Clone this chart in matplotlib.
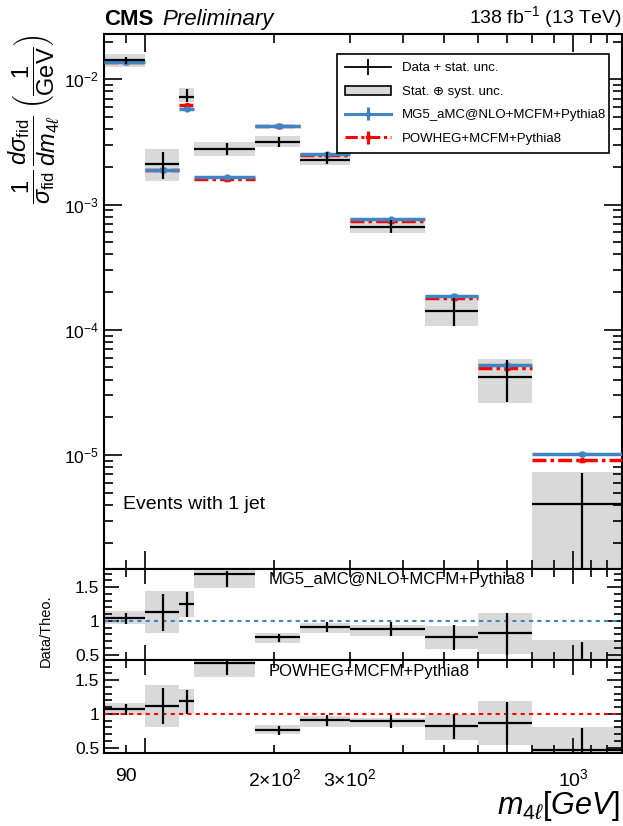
import numpy as np
import matplotlib
matplotlib.use("Agg")
import matplotlib.pyplot as plt
from matplotlib.patches import Patch
from matplotlib.lines import Line2D
from matplotlib.ticker import FixedLocator, FuncFormatter, MultipleLocator, LogLocator, NullFormatter

plt.rcParams['font.family'] = ['Liberation Sans', 'DejaVu Sans']
plt.rcParams['mathtext.fontset'] = 'custom'
plt.rcParams['mathtext.rm'] = 'Liberation Sans'
plt.rcParams['mathtext.it'] = 'Liberation Sans:italic'
plt.rcParams['mathtext.bf'] = 'Liberation Sans:bold'

# m4l binning (GeV)
bin_edges = [80, 100, 120, 130, 180, 230, 300, 450, 600, 800, 1300]
bin_centers = [90, 110, 125, 155, 205, 265, 375, 525, 700, 1050]

# normalised differential cross section (1/GeV)
data = [0.01425, 0.0021, 0.00726, 0.00279, 0.00318, 0.00227, 0.000665, 0.000141, 4.23e-5, 4.1e-6]
stat_lo = [0.0132, 0.00159, 0.0066, 0.00249, 0.00286, 0.0021, 0.000589, 0.000107, 2.67e-5, 1e-7]
stat_hi = [0.0152, 0.00264, 0.0083, 0.0031, 0.00344, 0.002615, 0.000752, 0.000178, 5.75e-5, 7.2e-6]
syst_lo = [0.0126, 0.00154, 0.00663, 0.00245, 0.00286, 0.00206, 0.000596, 0.000107, 2.6e-5, 1e-7]
syst_hi = [0.0158, 0.00277, 0.00847, 0.00314, 0.00353, 0.0026, 0.000762, 0.000178, 5.8e-5, 7.3e-6]

mg5 = [0.0137, 0.00189, 0.00583, 0.00165, 0.00424, 0.00252, 0.000762, 0.000187, 5.24e-5, 1.02e-5]
powheg = [0.0138, 0.0019, 0.0062, 0.0016, 0.00424, 0.0025, 0.00074, 0.000178, 4.93e-5, 9.1e-6]
theo_rel_unc = 0.03

# ratio panels
ratio_mg = [1.05, 1.13, 1.25, 1.70, 0.76, 0.905, 0.88, 0.766, 0.825, 0.40]
ratio_mg_stat_lo = [0.96, 0.855, 1.055, 1.51, 0.69, 0.83, 0.776, 0.567, 0.49, 0.0]
ratio_mg_stat_hi = [1.11, 1.40, 1.43, 1.74, 0.805, 0.98, 0.98, 0.94, 1.115, 0.69]
ratio_mg_syst_lo = [0.955, 0.825, 1.055, 1.49, 0.676, 0.825, 0.776, 0.58, 0.51, 0.0]
ratio_mg_syst_hi = [1.14, 1.45, 1.45, 1.90, 0.825, 0.965, 0.94, 0.93, 1.115, 0.716]

ratio_pw = [1.07, 1.12, 1.185, 1.76, 0.76, 0.91, 0.895, 0.82, 0.86, 0.47]
ratio_pw_stat_lo = [0.985, 0.845, 1.0, 1.58, 0.685, 0.825, 0.795, 0.635, 0.535, 0.0]
ratio_pw_stat_hi = [1.15, 1.385, 1.36, 1.95, 0.82, 0.985, 0.985, 1.0, 1.17, 0.795]
ratio_pw_syst_lo = [0.985, 0.81, 1.0, 1.55, 0.70, 0.81, 0.81, 0.62, 0.535, 0.0]
ratio_pw_syst_hi = [1.16, 1.435, 1.37, 1.95, 0.835, 0.97, 0.935, 1.0, 1.185, 0.81]

blue = '#3f84c4'
red = '#ff0000'
grey = '#d9d9d9'
dashdot = (0, (4, 1.2, 1, 1.2))

edges = np.array(bin_edges, dtype=float)
lo_e, hi_e = edges[:-1], edges[1:]
c = np.array(bin_centers, dtype=float)
xerr = [c - lo_e, hi_e - c]


def draw_boxes(ax, lo, hi):
    lo, hi = np.array(lo), np.array(hi)
    ax.bar(lo_e, hi - lo, bottom=lo, width=hi_e - lo_e, align='edge',
           color=grey, edgecolor='none', zorder=1)


def draw_data(ax, y, lo, hi):
    y, lo, hi = np.array(y), np.array(lo), np.array(hi)
    ax.errorbar(c, y, yerr=[y - lo, hi - y], xerr=xerr, fmt='none',
                ecolor='k', elinewidth=1.6, zorder=5)


def style_ticks(ax, major_len, minor_len):
    ax.tick_params(which='both', direction='in', top=True, right=True, width=1.2)
    ax.tick_params(which='major', length=major_len)
    ax.tick_params(which='minor', length=minor_len)
    for s in ax.spines.values():
        s.set_linewidth(1.5)


fig = plt.figure(figsize=(6.23, 8.26), dpi=100)
W, H = 623.0, 826.0
x0, x1 = 104 / W, 622 / W
ax = fig.add_axes([x0, 1 - 569 / H, x1 - x0, (569 - 34) / H])
rx1 = fig.add_axes([x0, 1 - 660 / H, x1 - x0, 91 / H], sharex=ax)
rx2 = fig.add_axes([x0, 1 - 753 / H, x1 - x0, 93 / H], sharex=ax)

# main panel
draw_boxes(ax, syst_lo, syst_hi)
mg = np.array(mg5)
pw = np.array(powheg)
ax.hlines(pw, lo_e, hi_e, color=red, lw=2.5, linestyles=[dashdot], zorder=3)
ax.errorbar(c, pw, yerr=pw * theo_rel_unc, fmt='o', ms=3, color=red, capsize=2.5,
            elinewidth=2, zorder=3)
ax.hlines(mg, lo_e, hi_e, color=blue, lw=2.5, zorder=4)
ax.errorbar(c, mg, yerr=mg * theo_rel_unc, fmt='o', ms=3.5, color=blue, capsize=2.5,
            elinewidth=2, zorder=4)
draw_data(ax, data, stat_lo, stat_hi)

ax.set_xscale('log')
ax.set_yscale('log')
ax.set_xlim(80, 1300)
ax.set_ylim(1.23e-6, 0.023)
ax.yaxis.set_major_locator(LogLocator(base=10, numticks=10))
ax.yaxis.set_minor_locator(LogLocator(base=10, subs=np.arange(2, 10), numticks=20))
ax.yaxis.set_minor_formatter(NullFormatter())
style_ticks(ax, 13, 6.5)
ax.tick_params(axis='y', labelsize=12.5)
ax.tick_params(axis='x', which='both', labelbottom=False)

ax.set_ylabel(r'$\dfrac{1}{\sigma_{\rm fid}}\,\dfrac{d\sigma_{\rm fid}}{dm_{4\ell}}\;\left(\dfrac{1}{\rm GeV}\right)$',
              fontsize=17, loc='top')
ax.yaxis.set_label_coords(-0.083, 1.0)

ax.text(0.0, 1.008, 'CMS', transform=ax.transAxes, fontsize=16, fontweight='bold',
        ha='left', va='bottom')
ax.text(0.112, 1.008, 'Preliminary', transform=ax.transAxes, fontsize=16, style='italic',
        ha='left', va='bottom')
ax.text(1.0, 1.008, r'138 fb$^{-1}$ (13 TeV)', transform=ax.transAxes, fontsize=14,
        ha='right', va='bottom')
ax.text(0.037, 0.12, 'Events with 1 jet', transform=ax.transAxes, fontsize=14,
        ha='left', va='center')

handles = [
    Line2D([], [], color='k', lw=1.3, marker='|', ms=12, mew=1.3),
    Patch(facecolor=grey, edgecolor='k', lw=1.2),
    ax.errorbar([], [], yerr=[], fmt='-', color=blue, lw=2.2, marker='o', ms=3, capsize=3),
    ax.errorbar([], [], yerr=[], fmt='-', color=red, lw=2.2, ls=dashdot, marker='o', ms=3,
                capsize=3),
]
labels = ['Data + stat. unc.', 'Stat. \u2295 syst. unc.', 'MG5_aMC@NLO+MCFM+Pythia8',
          'POWHEG+MCFM+Pythia8']
leg = ax.legend(handles, labels, loc='upper left', bbox_to_anchor=(0.45, 0.962, 0.525, 0.0),
                mode='expand', fontsize=9.5, frameon=True, fancybox=False, framealpha=1,
                edgecolor='k', handlelength=3.5, borderpad=0.6, labelspacing=0.85,
                borderaxespad=0)
leg.get_frame().set_linewidth(1.2)

# ratio panels
panels = [
    (rx1, ratio_mg, ratio_mg_stat_lo, ratio_mg_stat_hi, ratio_mg_syst_lo, ratio_mg_syst_hi,
     blue, 'MG5_aMC@NLO+MCFM+Pythia8', (0.42, 1.77)),
    (rx2, ratio_pw, ratio_pw_stat_lo, ratio_pw_stat_hi, ratio_pw_syst_lo, ratio_pw_syst_hi,
     red, 'POWHEG+MCFM+Pythia8', (0.42, 1.8)),
]
for rax, r, slo, shi, blo, bhi, col, name, ylim in panels:
    draw_boxes(rax, blo, bhi)
    rax.axhline(1.0, color=col, lw=1.5, ls=(0, (2, 2)), zorder=2)
    draw_data(rax, r, slo, shi)
    rax.set_ylim(*ylim)
    rax.yaxis.set_major_locator(FixedLocator([0.5, 1.0, 1.5]))
    rax.yaxis.set_major_formatter(FuncFormatter(lambda v, p: '%g' % v))
    rax.yaxis.set_minor_locator(MultipleLocator(0.1))
    style_ticks(rax, 11, 5.5)
    rax.tick_params(axis='y', labelsize=12.5)
    rax.text(0.317, 0.88, name, transform=rax.transAxes, fontsize=12, ha='left', va='center')

rx1.tick_params(axis='x', which='both', labelbottom=False)
rx1.set_ylabel('Data/Theo.', fontsize=10.5)
rx1.yaxis.set_label_coords(-0.098, 0.32)

major_lbl = {1000: r'$10^3$'}
minor_lbl = {90: '90', 200: r'$2{\times}10^2$', 300: r'$3{\times}10^2$'}
rx2.xaxis.set_major_locator(FixedLocator([100, 1000]))
rx2.xaxis.set_minor_locator(FixedLocator([90, 200, 300, 400, 500, 600, 700, 800, 900, 1100, 1200]))
rx2.xaxis.set_major_formatter(FuncFormatter(lambda v, p: major_lbl.get(int(round(v)), '')))
rx2.xaxis.set_minor_formatter(FuncFormatter(lambda v, p: minor_lbl.get(int(round(v)), '')))
rx2.tick_params(axis='x', which='both', labelsize=14, pad=11)

fig.text(620 / W, 1 - 806 / H, r'$m_{4\ell}[GeV]$', fontsize=22, ha='right', va='center')

fig.savefig('out.png', dpi=100)
